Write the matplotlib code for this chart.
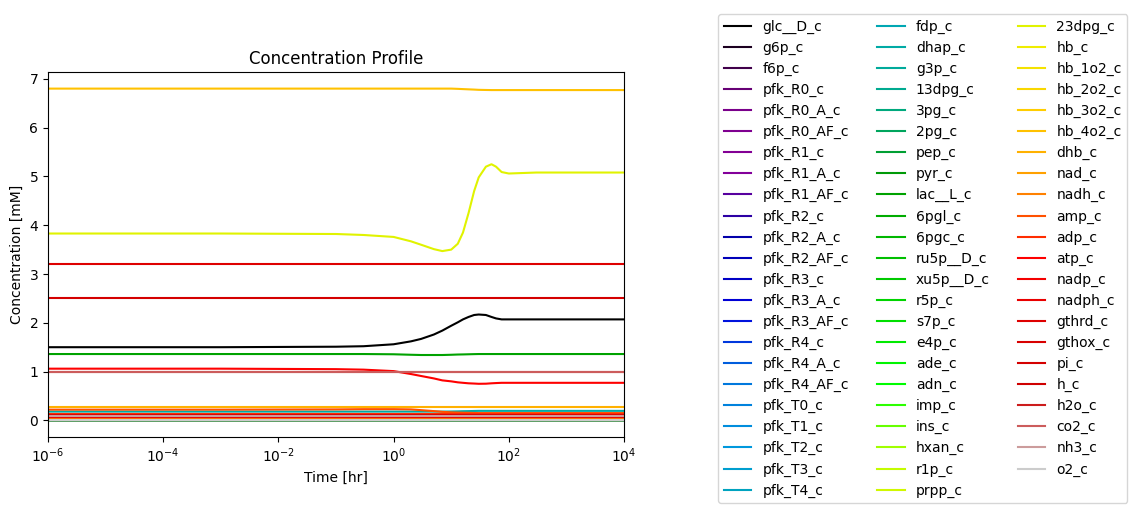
import numpy as np
import matplotlib
matplotlib.use("Agg")
import matplotlib.pyplot as plt

# species in legend order
species = [
    "glc__D_c", "g6p_c", "f6p_c", "pfk_R0_c", "pfk_R0_A_c", "pfk_R0_AF_c",
    "pfk_R1_c", "pfk_R1_A_c", "pfk_R1_AF_c", "pfk_R2_c", "pfk_R2_A_c",
    "pfk_R2_AF_c", "pfk_R3_c", "pfk_R3_A_c", "pfk_R3_AF_c", "pfk_R4_c",
    "pfk_R4_A_c", "pfk_R4_AF_c", "pfk_T0_c", "pfk_T1_c", "pfk_T2_c",
    "pfk_T3_c", "pfk_T4_c",
    "fdp_c", "dhap_c", "g3p_c", "13dpg_c", "3pg_c", "2pg_c", "pep_c", "pyr_c",
    "lac__L_c", "6pgl_c", "6pgc_c", "ru5p__D_c", "xu5p__D_c", "r5p_c", "s7p_c",
    "e4p_c", "ade_c", "adn_c", "imp_c", "ins_c", "hxan_c", "r1p_c", "prpp_c",
    "23dpg_c", "hb_c", "hb_1o2_c", "hb_2o2_c", "hb_3o2_c", "hb_4o2_c", "dhb_c",
    "nad_c", "nadh_c", "amp_c", "adp_c", "atp_c", "nadp_c", "nadph_c",
    "gthrd_c", "gthox_c", "pi_c", "h_c", "h2o_c", "co2_c", "nh3_c", "o2_c",
]

# time points [hr] the values below are read at
time = [1e-6, 1e-3, 0.1, 0.3, 1, 2, 3, 5, 7, 10, 13, 16, 20, 25, 30, 40, 50,
        60, 75, 100, 300, 1e4]

# steady values of the species that barely move (mM)
steady = {
    "g6p_c": 0.049, "f6p_c": 0.020, "pfk_R0_c": 0.0, "pfk_R0_A_c": 0.0,
    "pfk_R0_AF_c": 0.0, "pfk_R1_c": 0.0, "pfk_R1_A_c": 0.0, "pfk_R1_AF_c": 0.0,
    "pfk_R2_c": 0.0, "pfk_R2_A_c": 0.0, "pfk_R2_AF_c": 0.0, "pfk_R3_c": 0.0,
    "pfk_R3_A_c": 0.0, "pfk_R3_AF_c": 0.0, "pfk_R4_c": 0.0, "pfk_R4_A_c": 0.0,
    "pfk_R4_AF_c": 0.0, "pfk_T0_c": 0.0, "pfk_T1_c": 0.0, "pfk_T2_c": 0.0,
    "pfk_T3_c": 0.0, "pfk_T4_c": 0.0,
    "fdp_c": 0.015, "g3p_c": 0.007, "13dpg_c": 0.0003, "3pg_c": 0.077,
    "2pg_c": 0.011, "pep_c": 0.017, "pyr_c": 0.060, "6pgl_c": 0.002,
    "6pgc_c": 0.037, "ru5p__D_c": 0.005, "xu5p__D_c": 0.015, "r5p_c": 0.013,
    "s7p_c": 0.024, "e4p_c": 0.005, "ade_c": 0.001, "adn_c": 0.001,
    "imp_c": 0.010, "ins_c": 0.001, "hxan_c": 0.002, "r1p_c": 0.060,
    "prpp_c": 0.005, "hb_c": 0.060, "hb_1o2_c": 0.050, "hb_2o2_c": 0.007,
    "hb_3o2_c": 0.020, "dhb_c": 0.265, "nad_c": 0.059, "nadh_c": 0.030,
    "adp_c": 0.14, "nadp_c": 0.0002, "nadph_c": 0.075, "gthrd_c": 3.2,
    "gthox_c": 0.12, "pi_c": 2.5, "h_c": 0.0001, "h2o_c": 1.0, "co2_c": 1.0,
    "nh3_c": 0.091, "o2_c": 0.0,
}

# species that change, read at the time points above
glc = [1.50, 1.50, 1.51, 1.52, 1.56, 1.62, 1.67, 1.76, 1.84, 1.94, 2.01, 2.07,
       2.12, 2.16, 2.17, 2.16, 2.12, 2.09, 2.07, 2.07, 2.07, 2.07]
lac = [1.36, 1.36, 1.36, 1.36, 1.355, 1.345, 1.34, 1.34, 1.34, 1.345, 1.35,
       1.352, 1.355, 1.358, 1.36, 1.36, 1.36, 1.36, 1.36, 1.36, 1.36, 1.36]
dpg23 = [3.83, 3.83, 3.82, 3.80, 3.76, 3.67, 3.60, 3.51, 3.47, 3.50, 3.62, 3.85,
         4.25, 4.70, 4.98, 5.20, 5.25, 5.20, 5.09, 5.06, 5.08, 5.08]
hb4o2 = [6.80, 6.80, 6.80, 6.80, 6.80, 6.80, 6.80, 6.80, 6.80, 6.80, 6.795,
         6.79, 6.785, 6.78, 6.775, 6.772, 6.77, 6.77, 6.77, 6.77, 6.77, 6.77]
atp = [1.06, 1.06, 1.05, 1.04, 1.01, 0.95, 0.91, 0.86, 0.82, 0.80, 0.78, 0.77,
       0.76, 0.755, 0.75, 0.752, 0.76, 0.765, 0.77, 0.77, 0.77, 0.77]
amp = [0.22, 0.22, 0.225, 0.23, 0.23, 0.225, 0.21, 0.19, 0.175, 0.165, 0.16,
       0.157, 0.155, 0.152, 0.15, 0.15, 0.15, 0.15, 0.15, 0.15, 0.15, 0.15]
dhap = [0.18, 0.18, 0.18, 0.18, 0.18, 0.18, 0.18, 0.18, 0.18, 0.182, 0.185,
        0.188, 0.19, 0.193, 0.195, 0.195, 0.195, 0.195, 0.195, 0.195, 0.195, 0.195]

moving = {"glc__D_c": glc, "lac__L_c": lac, "23dpg_c": dpg23,
          "hb_4o2_c": hb4o2, "atp_c": atp, "amp_c": amp, "dhap_c": dhap}

colors = plt.cm.nipy_spectral(np.linspace(0, 1, len(species)))

fig = plt.figure(figsize=(11.36, 5.09), dpi=100)
ax = fig.add_axes([0.0423, 0.1415, 0.507, 0.717])

for name, c in zip(species, colors):
    if name in moving:
        vals = moving[name]
    else:
        vals = [steady[name]] * len(time)
    ax.plot(time, vals, color=c, label=name)

ax.set_xscale("log")
ax.set_xlim(1e-6, 1e4)
ax.set_title("Concentration Profile")
ax.set_xlabel("Time [hr]")
ax.set_ylabel("Concentration [mM]")

ax.legend(loc="upper left", bbox_to_anchor=(0.626, 0.986),
          bbox_transform=fig.transFigure, ncol=3)

fig.savefig("out.png", dpi=100)
